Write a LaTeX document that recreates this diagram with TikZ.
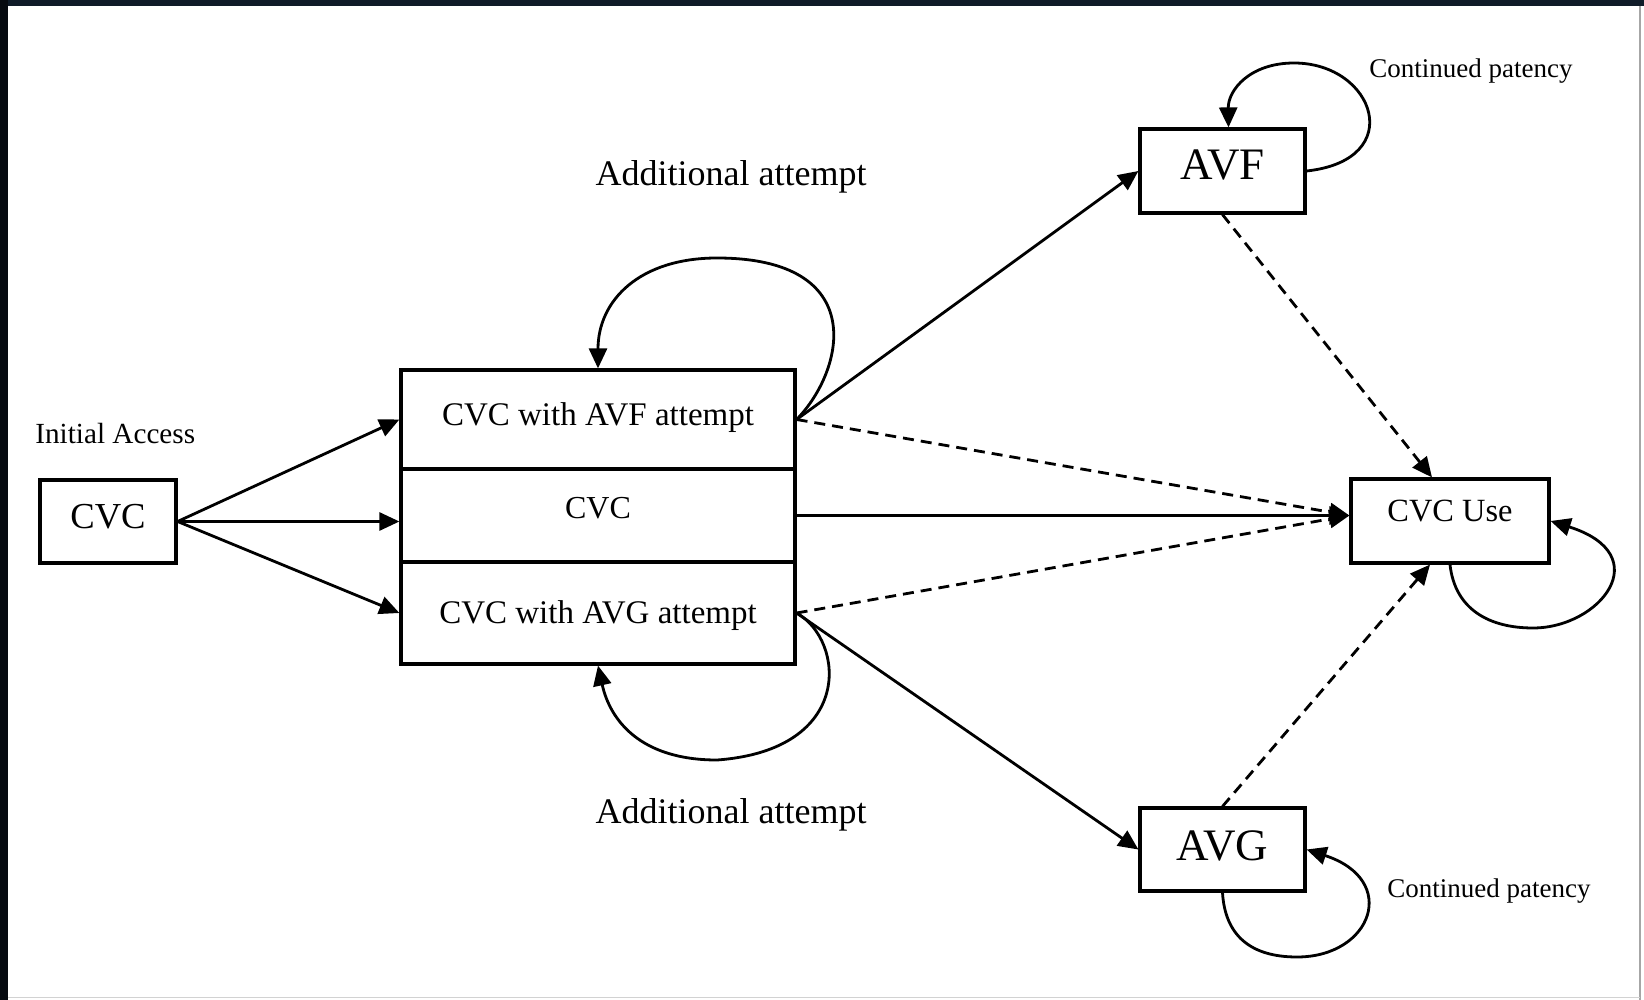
\documentclass[tikz,border=0pt]{standalone}
\usepackage{fontspec}
\setmainfont{Liberation Serif}
\usetikzlibrary{arrows.meta}
\definecolor{frametop}{HTML}{0F1B28}
\definecolor{frameleft}{HTML}{060A10}
\begin{document}
\begin{tikzpicture}[x=0.5pt,y=-0.5pt,
  box/.style={draw, rectangle, line width=1.6pt, inner sep=0pt, align=center},
  arr/.style={line width=1.4pt, -{Triangle[length=10pt,width=9pt]}},
  dsh/.style={arr, dash pattern=on 5.5pt off 3.5pt},
  fbox/.style={font=\fontsize{16.5pt}{19pt}\selectfont},
  fbig/.style={font=\fontsize{22.5pt}{26pt}\selectfont},
  fsmall/.style={font=\fontsize{13.5pt}{16pt}\selectfont},
  flab/.style={font=\fontsize{18pt}{21pt}\selectfont}]
\useasboundingbox (0,0) rectangle (1644,1000);
\fill[white] (0,0) rectangle (1644,1000);
\fill[frametop] (0,0) rectangle (1644,6);
\fill[frameleft] (0,0) rectangle (8,1000);
\draw[gray!70, line width=0.6pt] (1640,6) -- (1640,1000);
\draw[gray!35, line width=0.5pt] (8,997) -- (1640,997);

% nodes
\node[box, minimum width=68pt, minimum height=41.5pt,
      font=\fontsize{18.3pt}{21pt}\selectfont, text height=12.5pt, text depth=6pt]
      (cvc) at (108,521.5) {CVC};
\node[box, fbox, minimum width=197pt, minimum height=49.5pt, text height=11.5pt, text depth=6pt]
      (top) at (598,419.5) {CVC with AVF attempt};
\node[box, font=\fontsize{16pt}{19pt}\selectfont, minimum width=197pt, minimum height=46.5pt, text height=11.5pt, text depth=9pt]
      (mid) at (598,515.5) {CVC};
\node[box, fbox, minimum width=197pt, minimum height=51pt, text height=11.5pt, text depth=1.5pt]
      (bot) at (598,613) {CVC with AVG attempt};
\node[box, fbig, minimum width=82.5pt, minimum height=42pt, text height=16pt, text depth=7pt]
      (avf) at (1222.5,171) {AVF};
\node[box, fbig, minimum width=82.5pt, minimum height=41.5pt, text height=16pt, text depth=5.5pt]
      (avg) at (1222.5,849.5) {AVG};
\node[box, font=\fontsize{16.2pt}{19pt}\selectfont, minimum width=99pt, minimum height=42pt, text height=11.5pt, text depth=11.5pt]
      (cvcuse) at (1450,521) {CVC Use};

% labels
\node[anchor=base west, inner sep=0pt, font=\fontsize{14.6pt}{17pt}\selectfont] (initial) at (35,443) {Initial Access};
\node[anchor=base, inner sep=0pt, flab] (addtop) at (731,186) {Additional attempt};
\node[anchor=base, inner sep=0pt, flab] (addbot) at (731,823) {Additional attempt};
\node[anchor=base west, inner sep=0pt, fsmall] (contop) at (1369,78) {Continued patency};
\node[anchor=base west, inner sep=0pt, fsmall] (conbot) at (1387,897) {Continued patency};

% initial arrows
\draw[arr] (cvc.east) -- (top.west);
\draw[arr] (cvc.east) -- (cvc.east -| mid.west);
\draw[arr] (cvc.east) -- (bot.west);

% to AVF / AVG
\draw[arr] (top.east) -- (avf.west);
\draw[arr] (bot.east) -- (avg.west);

% to CVC use
\draw[arr] (mid.east) -- (cvcuse.west |- mid.east);
\draw[dsh] (top.east) -- (cvcuse.west |- mid.east);
\draw[dsh] (bot.east) -- (cvcuse.west |- mid.east);
\draw[dsh] (avf.south) -- ([xshift=-9pt]cvcuse.north);
\draw[dsh] (avg.north) -- ([xshift=-10pt]cvcuse.south);

% self loops
\draw[arr] (top.east) .. controls (845,370) and (870,258) .. (717,258)
           .. controls (640,258) and (598,300) .. (top.north);
\draw[arr] (bot.east) .. controls (845,640) and (855,750) .. (717,760)
           .. controls (640,760) and (610,720) .. (bot.south);
\draw[arr] (avf.east) .. controls (1408,160) and (1375,63) .. (1294,63)
           .. controls (1250,63) and (1228,90) .. ([xshift=3pt]avf.north);
\draw[arr] (avg.south) .. controls (1225,935) and (1250,957) .. (1297,957)
           .. controls (1372,957) and (1400,880) .. (avg.east);
\draw[arr] (cvcuse.south) .. controls (1455,610) and (1490,628) .. (1533,628)
           .. controls (1600,628) and (1658,555) .. (cvcuse.east);
\end{tikzpicture}
\end{document}
